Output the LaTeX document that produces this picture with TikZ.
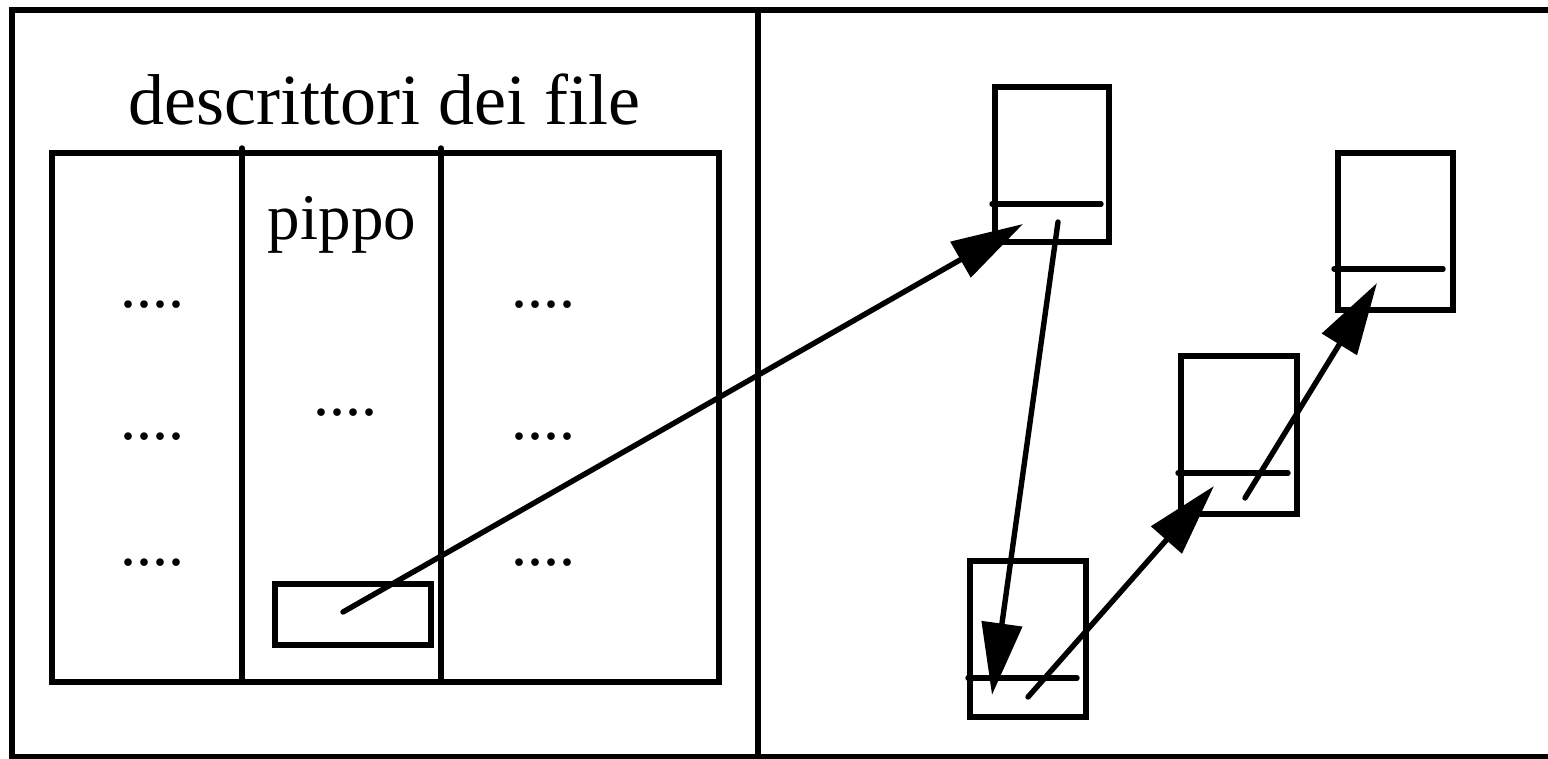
\documentclass[tikz,border=0pt]{standalone}
\usepackage{fontspec}
\setmainfont{Liberation Serif}
\usetikzlibrary{arrows.meta}
\tikzset{
  ln/.style={line width=5.4pt},
  rl/.style={line width=5.4pt, line cap=round},
  arr/.style={line width=5.4pt, line cap=round, -{Triangle[length=72pt,width=40pt]}},
  big/.style={font=\fontsize{72}{80}\selectfont, inner sep=0pt, anchor=base},
  mid/.style={font=\fontsize{65}{72}\selectfont, inner sep=0pt, anchor=base},
  dots/.style={font=\fontsize{64}{70}\selectfont, inner sep=0pt, anchor=base},
}
\begin{document}
\begin{tikzpicture}[x=1pt,y=-1pt]
\useasboundingbox (0,0) rectangle (1548,758);
\clip (0,0) rectangle (1548,758);
% outer frame
\draw[ln] (12,10) rectangle (1600,757);
\draw[ln] (758,10) -- (758,770);
% table
\draw[ln] (52,153) rectangle (719,682);
\draw[rl] (242,148) -- (242,682);
\draw[rl] (441,148) -- (441,682);
\node[big] (title) at (384,124) {descrittori dei file};
\node[mid] (pippo) at (342,239) {pippo};
\node[dots] (l1) at (152,307) {....};
\node[dots] (l2) at (152,439) {....};
\node[dots] (l3) at (152,565) {....};
\node[dots] (r1) at (543,307) {....};
\node[dots] (r2) at (543,439) {....};
\node[dots] (r3) at (543,565) {....};
\node[dots] (m1) at (345,415) {....};
\draw[ln] (275,584) rectangle (431,645);
\coordinate (fd) at (343,612);
% boxes
\draw[ln] (995,87) rectangle (1109,242);
\draw[rl] (992,204) -- (1101,204);
\draw[ln] (970,561) rectangle (1086,717);
\draw[rl] (968,678) -- (1077,678);
\draw[ln] (1181,356) rectangle (1297,514);
\draw[rl] (1178,473) -- (1288,473);
\draw[ln] (1338,153) rectangle (1453,310);
\draw[rl] (1334,269) -- (1443,269);
\coordinate (aIn) at (1023,224);
\coordinate (aOut) at (1058,222);
\coordinate (bIn) at (992,695);
\coordinate (bOut) at (1028,697);
\coordinate (cIn) at (1214,486);
\coordinate (cOut) at (1245,498);
\coordinate (dIn) at (1377,283);
\draw[arr] (fd) -- (aIn);
\draw[arr] (aOut) -- (bIn);
\draw[arr] (bOut) -- (cIn);
\draw[arr] (cOut) -- (dIn);
\end{tikzpicture}
\end{document}
